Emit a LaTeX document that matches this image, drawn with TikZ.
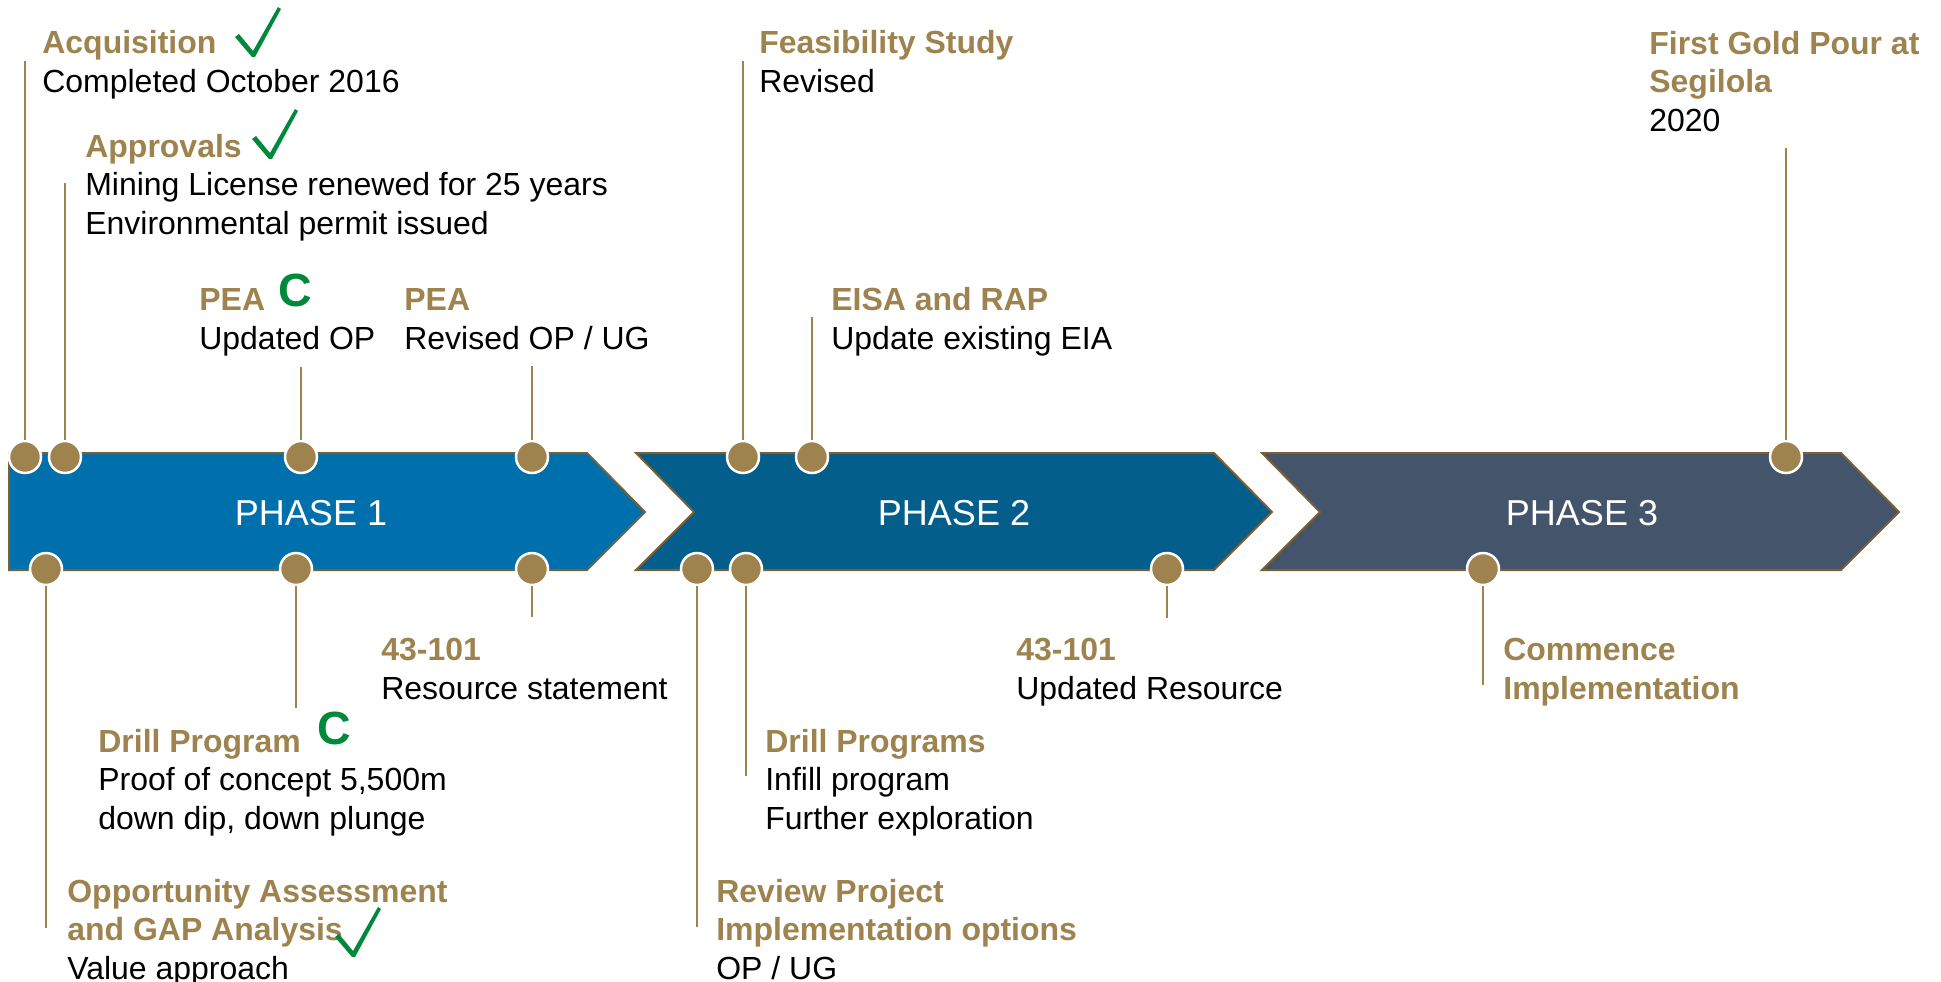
\documentclass[tikz,border=0pt]{standalone}
\usepackage{fontspec}
\setmainfont{Liberation Sans}
\usepackage{xcolor}
\usepackage{tikz}
\definecolor{phaseone}{RGB}{0,112,173}
\definecolor{phasetwo}{RGB}{3,94,140}
\definecolor{phasethree}{RGB}{68,84,106}
\definecolor{gold}{RGB}{158,131,78}
\definecolor{edgebrown}{RGB}{122,96,52}
\definecolor{donegreen}{RGB}{0,137,58}
\newcommand{\head}[1]{{\bfseries\color{gold}#1}}

\begin{document}
\begin{tikzpicture}[x=0.02cm, y=-0.02cm,
    milestone/.style={circle, fill=gold, draw=white, line width=0.05cm, minimum size=0.64cm, inner sep=0pt},
    stem/.style={draw=gold, line width=0.03cm},
    phasebox/.style={draw=edgebrown, line width=0.04cm, line join=miter},
    phaselabel/.style={text=white, inner sep=0pt, font=\fontsize{20.5}{24}\selectfont},
    note/.style={anchor=base west, inner sep=0pt, align=left, font=\fontsize{18.2}{21.9}\selectfont},
    status/.style={anchor=base west, inner sep=0pt, text=donegreen, font=\fontsize{26.5}{30}\selectfont\bfseries},
    donetick/.pic={\fill[donegreen] (-18,-19) -- (-14,-22) -- (0,-5) -- (25,-49) -- (28,-47) -- (2,1) -- (-1,1) -- cycle;}]
    \useasboundingbox (0,0) rectangle (1941,981);

    % Phase chevrons
    \draw[phasebox, fill=phaseone] (9,453) -- (587,453) -- (645,512) -- (587,570) -- (9,570) -- cycle;
    \draw[phasebox, fill=phasetwo] (636,453) -- (1214,453) -- (1272,512) -- (1214,570) -- (636,570) -- (694,512) -- cycle;
    \draw[phasebox, fill=phasethree] (1262,453) -- (1841,453) -- (1899,512) -- (1841,570) -- (1262,570) -- (1320,512) -- cycle;
    \node[phaselabel] (p1) at (311,513) {PHASE 1};
    \node[phaselabel] (p2) at (954,513) {PHASE 2};
    \node[phaselabel] (p3) at (1582,513) {PHASE 3};

    % Milestones above the chevrons
    \node[milestone] (d-acq) at (25,457) {};
    \node[milestone] (d-appr) at (65,457) {};
    \node[milestone] (d-peaop) at (301,457) {};
    \node[milestone] (d-peaug) at (532,457) {};
    \node[milestone] (d-fs) at (743,457) {};
    \node[milestone] (d-eisa) at (812,457) {};
    \node[milestone] (d-pour) at (1786,457) {};

    % Milestones below the chevrons
    \node[milestone] (d-oa) at (46,569) {};
    \node[milestone] (d-drill) at (296,569) {};
    \node[milestone] (d-res) at (532,569) {};
    \node[milestone] (d-review) at (697,569) {};
    \node[milestone] (d-drills) at (746,569) {};
    \node[milestone] (d-upd) at (1167,569) {};
    \node[milestone] (d-impl) at (1483,569) {};

    % Stems
    \coordinate (e-acq) at (25,61);
    \coordinate (e-appr) at (65,183);
    \coordinate (e-peaop) at (301,367);
    \coordinate (e-peaug) at (532,366);
    \coordinate (e-fs) at (743,61);
    \coordinate (e-eisa) at (812,317);
    \coordinate (e-pour) at (1786,148);
    \coordinate (e-oa) at (46,928);
    \coordinate (e-drill) at (296,708);
    \coordinate (e-res) at (532,617);
    \coordinate (e-review) at (697,927);
    \coordinate (e-drills) at (746,776);
    \coordinate (e-upd) at (1167,618);
    \coordinate (e-impl) at (1483,685);
    \draw[stem] (d-acq) -- (e-acq);
    \draw[stem] (d-appr) -- (e-appr);
    \draw[stem] (d-peaop) -- (e-peaop);
    \draw[stem] (d-peaug) -- (e-peaug);
    \draw[stem] (d-fs) -- (e-fs);
    \draw[stem] (d-eisa) -- (e-eisa);
    \draw[stem] (d-pour) -- (e-pour);
    \draw[stem] (d-oa) -- (e-oa);
    \draw[stem] (d-drill) -- (e-drill);
    \draw[stem] (d-res) -- (e-res);
    \draw[stem] (d-review) -- (e-review);
    \draw[stem] (d-drills) -- (e-drills);
    \draw[stem] (d-upd) -- (e-upd);
    \draw[stem] (d-impl) -- (e-impl);

    % Upper texts (placed by the baseline of their last line)
    \node[note] (t-acq) at (42,92) {\head{Acquisition}\\Completed October 2016};
    \node[note] (t-appr) at (85,234) {\head{Approvals}\\Mining License renewed for 25 years\\Environmental permit issued};
    \node[note] (t-peaop) at (199,349) {\head{PEA}\\Updated OP};
    \node[note] (t-peaug) at (404,349) {\head{PEA}\\Revised OP / UG};
    \node[note] (t-fs) at (759,92) {\head{Feasibility Study}\\Revised};
    \node[note] (t-eisa) at (831,349) {\head{EISA and RAP}\\Update existing EIA};
    \node[note] (t-pour) at (1649,131) {\head{First Gold Pour at}\\\head{Segilola}\\2020};

    % Lower texts
    \node[note] (t-res) at (381,699) {\head{43-101}\\Resource statement};
    \node[note] (t-drill) at (98,829) {\head{Drill Program}\\Proof of concept 5,500m\\down dip, down plunge};
    \node[note] (t-oa) at (67,979) {\head{Opportunity Assessment}\\\head{and GAP Analysis}\\Value approach};
    \node[note] (t-drills) at (765,829) {\head{Drill Programs}\\Infill program\\Further exploration};
    \node[note] (t-review) at (716,979) {\head{Review Project}\\\head{Implementation options}\\OP / UG};
    \node[note] (t-upd) at (1016,699) {\head{43-101}\\Updated Resource};
    \node[note] (t-impl) at (1503,699) {\head{Commence}\\\head{Implementation}};

    % Status marks
    \pic at (253,56) {donetick};
    \pic at (270,158) {donetick};
    \pic at (353,956) {donetick};
    \node[status] (c-peaop) at (278,306) {C};
    \node[status] (c-drill) at (317,744) {C};
\end{tikzpicture}
\end{document}
